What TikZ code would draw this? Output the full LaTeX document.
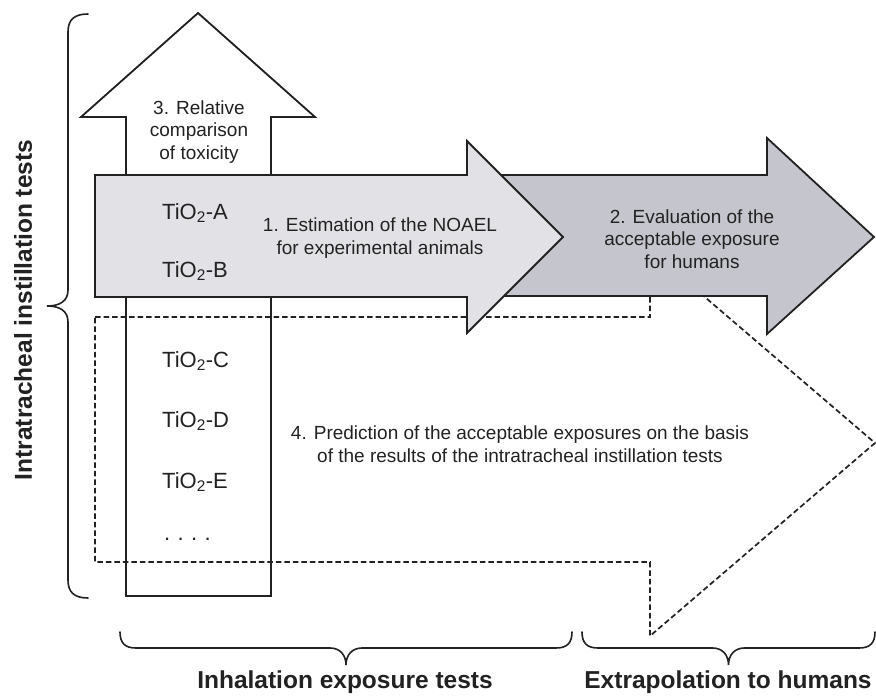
\documentclass[tikz,border=0pt]{standalone}
\usepackage{fontspec}
\setmainfont{Liberation Sans}
\usepackage{tikz}
\usetikzlibrary{positioning}

\definecolor{inkgray}{HTML}{222222}
\definecolor{lightfill}{HTML}{E2E2E6}
\definecolor{darkfill}{HTML}{C5C5CD}

\tikzset{
  outline/.style={draw=inkgray, line width=1.8pt, line join=miter},
  dashline/.style={draw=inkgray, line width=1.7pt, dash pattern=on 5.5pt off 3pt},
  bracepath/.style={draw=inkgray, line width=1.6pt, line cap=round},
  steptext/.style={text=inkgray, font=\fontsize{19}{22.5}\selectfont, align=center, inner sep=0pt},
  tiolabel/.style={text=inkgray, font=\fontsize{22}{26}\selectfont, inner sep=0pt, anchor=base west},
  grouplabel/.style={text=inkgray, font=\bfseries\fontsize{24.5}{28}\selectfont, inner sep=0pt}
}

\begin{document}
\begin{tikzpicture}[x=1pt,y=-1pt]

\useasboundingbox (0,0) rectangle (876,696);
\fill[white] (0,0) rectangle (876,696);

% 3. upward arrow
\draw[outline, fill=white] (126,596) -- (126,117) -- (81,117) -- (198,13)
    -- (315,117) -- (271,117) -- (271,596) -- cycle;

% 4. dashed arrow
\draw[dashline] (95,317) -- (650,317) -- (650,250) -- (875,443)
    -- (650,636) -- (650,562) -- (95,562) -- cycle;

% 2. arrow to humans
\draw[outline, fill=darkfill] (420,175) -- (767,175) -- (767,138) -- (874,237)
    -- (767,334) -- (767,296) -- (420,296) -- cycle;

% 1. arrow for animals
\draw[outline, fill=lightfill] (95,175) -- (467,175) -- (467,141) -- (563,237)
    -- (467,333) -- (467,297) -- (95,297) -- cycle;

% braces
\draw[bracepath] (88,14) .. controls (74,14) and (68,20) .. (68,32) -- (68,290)
    .. controls (68,301) and (60,306) .. (47,306)
    .. controls (60,306) and (68,311) .. (68,322) -- (68,580)
    .. controls (68,592) and (74,598) .. (88,598);

\foreach \ba/\bb in {120/572, 582/875} {
    \pgfmathsetmacro{\bm}{(\ba+\bb)/2}
    \draw[bracepath] (\ba,632) .. controls (\ba,643) and (\ba+5,648) .. (\ba+16,648)
        -- (\bm-16,648) .. controls (\bm-6,648) and (\bm,655) .. (\bm,665)
        .. controls (\bm,655) and (\bm+6,648) .. (\bm+16,648)
        -- (\bb-16,648) .. controls (\bb-5,648) and (\bb,643) .. (\bb,632);
}

% texts
\node[steptext] (relative) at (199,132) {3. Relative\\comparison\\of toxicity};
\node[steptext] (noael) at (380,238) {1. Estimation of the NOAEL\\for experimental animals};
\node[steptext] (humaneval) at (692,239) {2. Evaluation of the\\acceptable exposure\\for humans};
\node[steptext] (predict) at (520,444) {4. Prediction of the acceptable exposures on the basis\\of the results of the intratracheal instillation tests};

\foreach \name/\ypos in {A/219, B/277, C/367, D/427, E/488}
    \node[tiolabel] (tio\name) at (162,\ypos) {TiO\textsubscript{2}-\name};
\node[tiolabel] (tiodots) at (164,540) {.\,\,.\,\,.\,\,.};

\node[grouplabel, rotate=90] (itlabel) at (23,310) {Intratracheal instillation tests};
\node[grouplabel, anchor=base] (inhal) at (345,688) {Inhalation exposure tests};
\node[grouplabel, anchor=base] (extrap) at (728,688) {Extrapolation to humans};

\end{tikzpicture}
\end{document}
